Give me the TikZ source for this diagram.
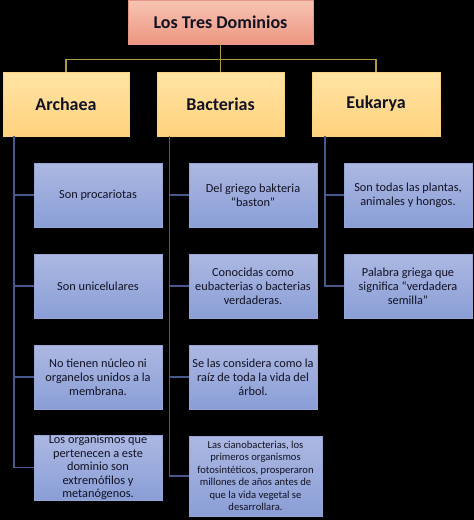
\documentclass[tikz,border=0pt]{standalone}
\usepackage{fontspec}
\setmainfont{Carlito}
\usetikzlibrary{calc}
\begin{document}
\begin{tikzpicture}[x=1pt,y=-1pt,
  base/.style={rectangle,inner sep=0pt,align=center,text=txt},
  topbox/.style={base,draw=salB,top color=salT,bottom color=salD,minimum width=185pt,minimum height=44pt,font=\fontsize{18}{22}\selectfont\bfseries},
  dombox/.style={base,draw=yelB,top color=yelT,bottom color=yelD,minimum height=64pt,font=\fontsize{18}{22}\selectfont\bfseries},
  infobox/.style={base,draw=bluB,top color=bluT,bottom color=bluD,minimum width=128pt,minimum height=64pt,font=\fontsize{12.3}{14.2}\selectfont},
  yline/.style={draw=yelL,line width=1.4pt},
  bline/.style={draw=bluL,line width=1.4pt}]
\definecolor{txt}{RGB}{18,18,35}
\definecolor{salB}{RGB}{230,150,130}
\definecolor{salT}{RGB}{248,196,180}
\definecolor{salD}{RGB}{236,150,128}
\definecolor{yelB}{RGB}{250,210,130}
\definecolor{yelT}{RGB}{255,228,165}
\definecolor{yelD}{RGB}{255,210,125}
\definecolor{bluB}{RGB}{150,165,215}
\definecolor{bluT}{RGB}{172,184,226}
\definecolor{bluD}{RGB}{138,158,214}
\definecolor{yelL}{RGB}{175,155,60}
\definecolor{bluL}{RGB}{70,88,140}
\fill[black] (0,0) rectangle (474,520);
\useasboundingbox (0,0) rectangle (474,520);

\node[topbox] (top) at (220.5,22) {Los Tres Dominios};
\node[dombox,minimum width=126pt] (arc) at (66,104) {Archaea};
\node[dombox,minimum width=127pt] (bac) at (220.5,104) {Bacterias};
\node[dombox,minimum width=128pt] (euk) at (376,104) {Eukarya};

\node[infobox] (a1) at (98,195) {Son procariotas};
\node[infobox] (a2) at (98,286) {Son unicelulares};
\node[infobox] (a3) at (98,377) {No tienen núcleo ni\\organelos unidos a la\\membrana.};
\node[infobox,font=\fontsize{12.3}{13.6}\selectfont] (a4) at (98,467.5) {Los organismos que\\pertenecen a este\\dominio son\\extremófilos y\\metanógenos.};

\node[infobox] (b1) at (253,195) {Del griego bakteria\\“baston”};
\node[infobox] (b2) at (253,286) {Conocidas como\\eubacterias o bacterias\\verdaderas.};
\node[infobox] (b3) at (253,377) {Se las considera como la\\raíz de toda la vida del\\árbol.};
\node[infobox,minimum width=133pt,minimum height=80pt,font=\fontsize{10.6}{12.5}\selectfont] (b4) at (255.5,476) {Las cianobacterias, los\\primeros organismos\\fotosintéticos, prosperaron\\millones de años antes de\\que la vida vegetal se\\desarrollara.};

\node[infobox] (e1) at (408,195) {Son todas las plantas,\\animales y hongos.};
\node[infobox] (e2) at (408,286) {Palabra griega que\\significa “verdadera\\semilla”};

\coordinate (hub) at ($(top.south)+(0,15)$);
\path[yline] (top.south) -- (bac.north);
\path[yline] (hub) -| (arc.north);
\path[yline] (hub) -| (euk.north);

\foreach \t in {a1,a2,a3,a4} \path[bline] ([xshift=11pt]arc.south west) |- (\t.west);
\foreach \t in {b1,b2,b3,b4} \path[bline] ([xshift=12.5pt]bac.south west) |- (\t.west);
\foreach \t in {e1,e2} \path[bline] ([xshift=13pt]euk.south west) |- (\t.west);
\end{tikzpicture}
\end{document}
